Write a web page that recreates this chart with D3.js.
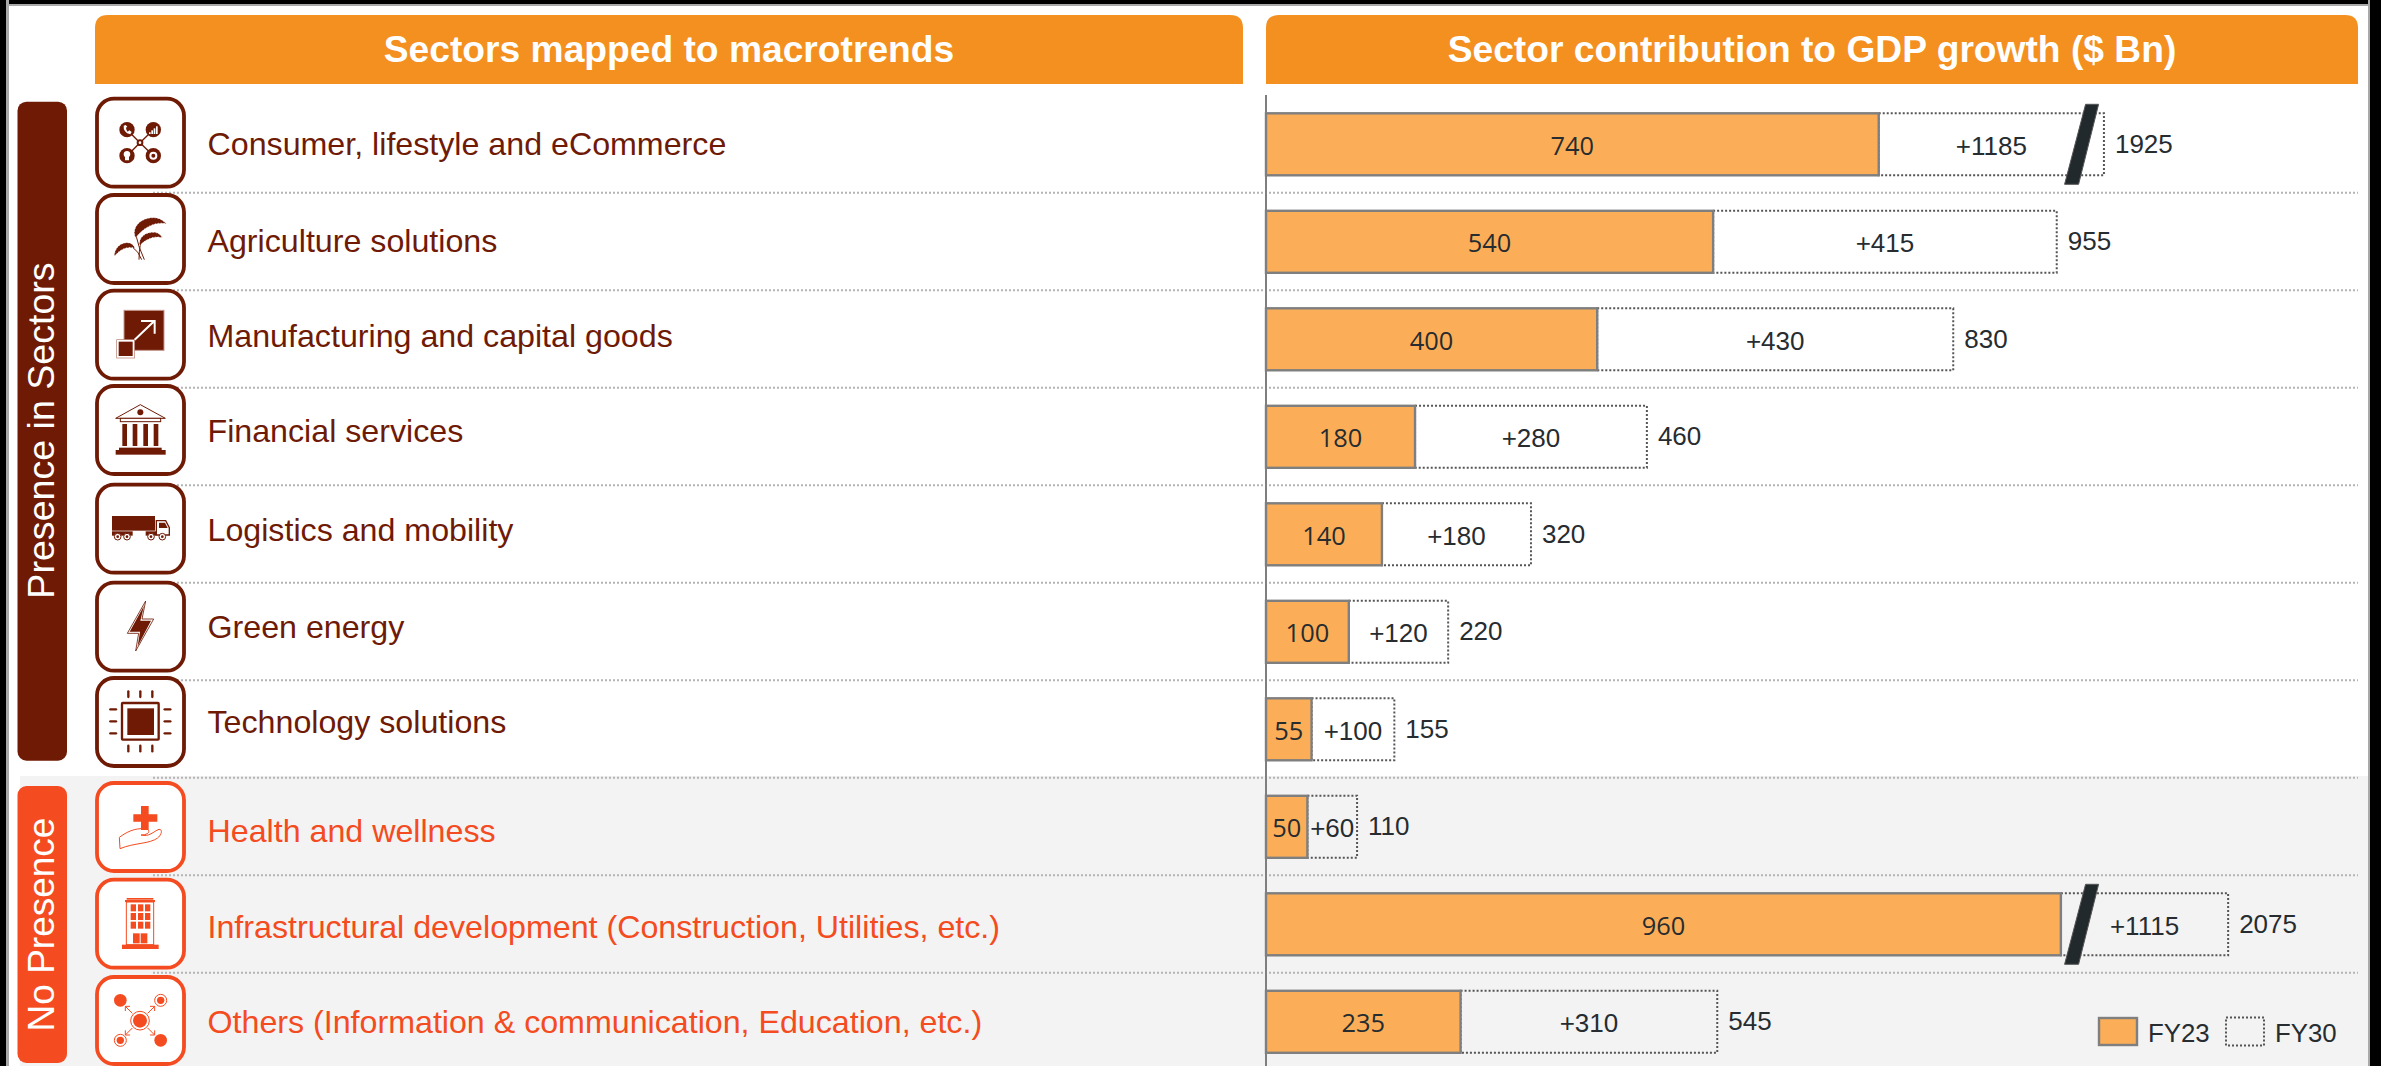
<!DOCTYPE html>
<html>
<head>
<meta charset="utf-8">
<script src="https://cdn.jsdelivr.net/npm/d3@7"></script>
<style>
html,body{margin:0;padding:0;background:#fff;overflow:hidden}
svg{display:block}
text{font-family:"Liberation Sans",Arial,sans-serif}
</style>
</head>
<body>
<div id="chart"></div>
<script>
const categories = ["Consumer, lifestyle and eCommerce","Agriculture solutions","Manufacturing and capital goods","Financial services","Logistics and mobility","Green energy","Technology solutions","Health and wellness","Infrastructural development (Construction, Utilities, etc.)","Others (Information & communication, Education, etc.)"];
const fy23 = [740,540,400,180,140,100,55,50,960,235];
const increment = [1185,415,430,280,180,120,100,60,1115,310];
const totals = [1925,955,830,460,320,220,155,110,2075,545];
// Two bars are cut by an axis break: what is drawn of their increment, on the same scale
const drawnIncrement = [272,415,430,280,180,120,100,60,202,310];
const breakAt = [985,null,null,null,null,null,null,null,985,null];
const groups = ["Presence in Sectors","No Presence"];
const groupOf = [0,0,0,0,0,0,0,1,1,1];
const headers = ["Sectors mapped to macrotrends","Sector contribution to GDP growth ($ Bn)"];
const legendLabels = ["FY23","FY30"];

const W=2381,H=1066;
const DARK="#6e1a05",RED="#f44b20",ORANGE="#fbae57",HEAD="#f4901f",INK="#262c30",GREY="#7f7f7f";
const svg=d3.select("#chart").append("svg").attr("width",W).attr("height",H).attr("viewBox",`0 0 ${W} ${H}`);

const x=d3.scaleLinear().domain([0,1000]).range([1266,2094]);
const y=d3.scaleBand().domain(categories).range([113.3,1052.8]).paddingInner(35.5/97.5);
const colorOf=i=>groupOf[i]?RED:DARK;

// page frame + grey panel
svg.append("rect").attr("x",20).attr("y",776).attr("width",2349).attr("height",290).attr("fill","#f3f3f3");
svg.append("rect").attr("width",W).attr("height",6).attr("fill","#a9a9a9");
svg.append("rect").attr("width",W).attr("height",4).attr("fill","#000");
svg.append("rect").attr("width",9).attr("height",H).attr("fill","#a9a9a9");
svg.append("rect").attr("width",6).attr("height",H).attr("fill","#000");
svg.append("rect").attr("x",2368).attr("width",2).attr("height",H).attr("fill","#a9a9a9");
svg.append("rect").attr("x",2370).attr("width",11).attr("height",H).attr("fill","#000");

// headers
const headPath=(a,b,t,bt,r)=>`M${a},${bt}V${t+r}Q${a},${t} ${a+r},${t}H${b-r}Q${b},${t} ${b},${t+r}V${bt}Z`;
[[95,1243],[1266,2358]].forEach((e,i)=>{
  svg.append("path").attr("d",headPath(e[0],e[1],15,84,13)).attr("fill",HEAD);
  svg.append("text").attr("x",(e[0]+e[1])/2).attr("y",62).attr("text-anchor","middle")
    .attr("font-size",37.2).attr("font-weight","bold").attr("fill","#fff").text(headers[i]);
});

// row separators
const sepY=d3.range(9).map(i=>192.7+97.5*i);
svg.append("g").selectAll("line").data(sepY).join("line")
  .attr("x1",153).attr("x2",2358).attr("y1",d=>d).attr("y2",d=>d)
  .attr("stroke","#b4b4b4").attr("stroke-width",2).attr("stroke-dasharray","2 2");

// side bands
[[17.5,101.7,49.5,659,0,53.5,430.5,37.6],[17.5,786,49.5,277,1,53.5,924.5,37]].forEach(b=>{
  svg.append("rect").attr("x",b[0]).attr("y",b[1]).attr("width",b[2]).attr("height",b[3]).attr("rx",9).attr("fill",b[4]?RED:DARK);
  svg.append("text").attr("transform",`translate(${b[5]},${b[6]}) rotate(-90)`).attr("text-anchor","middle")
    .attr("font-size",b[7]).attr("fill","#fff").text(groups[b[4]]);
});

// icon boxes
const boxTop=[96.7,193,288.7,384,482.7,580.7,676,781,877.7,975];
svg.append("g").selectAll("rect").data(boxTop).join("rect")
  .attr("x",97).attr("y",d=>d+2).attr("width",87).attr("height",(d,i)=>i===9?87:88).attr("rx",17)
  .attr("fill","#fff").attr("stroke",(d,i)=>colorOf(i)).attr("stroke-width",3.8);

// icons are drawn in a 3x local space
function icon(oy,c){return svg.append("g").attr("transform",`translate(95,${oy}) scale(${1/3})`).attr("fill",c).attr("stroke","none");}
function seg(g,a,b,c,w){return g.append("line").attr("x1",a[0]).attr("y1",a[1]).attr("x2",b[0]).attr("y2",b[1]).attr("stroke",c).attr("stroke-width",w);}

// 1 consumer
(()=>{const g=icon(95,DARK);
  [[96,104],[175,104],[96,182],[175,182]].forEach(p=>{seg(g,p,[135,143],DARK,4);g.append("circle").attr("cx",p[0]).attr("cy",p[1]).attr("r",23);});
  g.append("circle").attr("cx",135).attr("cy",143).attr("r",10);
  g.append("circle").attr("cx",135).attr("cy",143).attr("r",4).attr("fill","#fff");
  g.append("path").attr("d","M86,92 Q84,112 106,118 L110,111 L103,106 L98,110 Q93,104 93,98 L97,95 L92,90Z").attr("fill","#fff");
  [[162,112,5],[169,106,11],[176,100,17],[183,94,23]].forEach(b=>g.append("rect").attr("x",b[0]).attr("y",b[1]).attr("width",5).attr("height",b[2]).attr("fill","#fff"));
  g.append("path").attr("d","M96,168 C84,168 84,182 90,186 L90,196 L102,196 L102,186 C108,182 108,168 96,168Z").attr("fill","#fff");
  g.append("circle").attr("cx",175).attr("cy",182).attr("r",9).attr("fill","none").attr("stroke","#fff").attr("stroke-width",6);
})();
// 2 wheat
(()=>{const g=icon(95,DARK);
  const st=d=>g.append("path").attr("d",d).attr("fill","none").attr("stroke",DARK).attr("stroke-width",3);
  st("M148,494 Q130,455 124,425");st("M132,494 Q132,470 136,448");st("M140,494 Q130,468 114,458");
  const ear=d=>{g.append("path").attr("d",d);
    g.append("path").attr("d",d).attr("fill","none").attr("stroke","#fff").attr("stroke-width",2).attr("stroke-dasharray","4 5");};
  ear("M122,428 C108,400 135,368 175,368 C192,368 205,376 214,386 C185,380 150,392 122,428Z");
  ear("M134,452 C130,428 150,412 175,412 C188,412 196,418 202,428 C180,422 155,430 134,452Z");
  ear("M58,484 C58,458 78,442 98,443 C110,444 116,450 120,460 C100,452 75,462 58,484Z");
})();
// 3 scale-up
(()=>{const g=icon(95,DARK);
  g.append("rect").attr("x",87).attr("y",646).attr("width",120).attr("height",120).attr("stroke","#c79a8d").attr("stroke-width",3);
  g.append("rect").attr("x",65).attr("y",734).attr("width",54).attr("height",55).attr("fill","#fff").attr("stroke","#b37a6b").attr("stroke-width",2);
  g.append("rect").attr("x",71).attr("y",740).attr("width",42).attr("height",43);
  g.append("path").attr("d","M119,734 L178,678 M138,678 H179 V716").attr("fill","none").attr("stroke","#fff").attr("stroke-width",6);
})();
// 4 bank
(()=>{const g=icon(385,DARK);
  g.append("path").attr("d","M62,100 L136,59 L211,100Z").attr("fill","#fff").attr("stroke",DARK).attr("stroke-width",3);
  g.append("circle").attr("cx",136).attr("cy",82).attr("r",9);
  g.append("rect").attr("x",76).attr("y",100).attr("width",121).attr("height",10).attr("fill","#fff").attr("stroke",DARK).attr("stroke-width",3);
  [82,113,145,176].forEach(c=>g.append("rect").attr("x",c).attr("y",117).attr("width",14).attr("height",66));
  g.append("rect").attr("x",72).attr("y",188).attr("width",128).attr("height",8);
  g.append("rect").attr("x",62).attr("y",195).attr("width",150).attr("height",14);
})();
// 5 truck
(()=>{const g=icon(385,DARK);
  g.append("rect").attr("x",51).attr("y",393).attr("width",129).attr("height",44);
  g.append("rect").attr("x",51).attr("y",439).attr("width",62).attr("height",13);
  g.append("rect").attr("x",152).attr("y",439).attr("width",32).attr("height",13);
  g.append("path").attr("d","M184,407 H212 L223,428 V450 H184Z").attr("fill","#fff").attr("stroke",DARK).attr("stroke-width",4);
  g.append("path").attr("d","M192,413 H210 L218,429 H192Z");
  [68,96,168,202].forEach(c=>{g.append("circle").attr("cx",c).attr("cy",455).attr("r",10).attr("fill","#fff").attr("stroke",DARK).attr("stroke-width",3);
    g.append("circle").attr("cx",c).attr("cy",455).attr("r",4);});
})();
// 6 bolt
(()=>{const g=icon(385,DARK);
  g.append("path").attr("d","M152,648 L141,702 L176,702 L122,798 L131,745 L97,745Z").attr("fill","#fff").attr("stroke",DARK).attr("stroke-width",2.5);
  g.append("path").attr("d","M147,662 L136,707 L168,707 L128,784 L135,740 L104,740Z");
})();
// 7 chip
(()=>{const g=icon(676,DARK);
  g.append("rect").attr("x",81).attr("y",81).attr("width",110).attr("height",110).attr("fill","#fff").attr("stroke",DARK).attr("stroke-width",7).attr("rx",2);
  g.append("rect").attr("x",97).attr("y",97).attr("width",80).attr("height",80);
  [100,136,172].forEach(c=>{
    [[[c,46],[c,63]],[[c,209],[c,226]],[[46,c],[63,c]],[[209,c],[226,c]]].forEach(s=>seg(g,s[0],s[1],DARK,7).attr("stroke-linecap","round"));
  });
})();
// 8 health
(()=>{const g=icon(676,RED);
  g.append("path").attr("d","M138,390H161V415H187V437H161V462H138V437H115V415H138Z");
  g.append("path").attr("d","M73,484 C95,468 118,456 150,458 C166,460 168,476 138,477 C162,484 176,466 192,460 C204,460 200,476 188,486 C164,504 118,500 75,518Z").attr("fill","none").attr("stroke",RED).attr("stroke-width",3);
})();
// 9 building
(()=>{const g=icon(676,RED);
  g.append("rect").attr("x",95).attr("y",666).attr("width",80).attr("height",5);
  g.append("rect").attr("x",90).attr("y",672).attr("width",90).attr("height",6);
  g.append("rect").attr("x",94).attr("y",678).attr("width",82).attr("height",128).attr("fill","none").attr("stroke",RED).attr("stroke-width",3);
  [685,711,737].forEach(r=>[107,129,150].forEach(c=>g.append("rect").attr("x",c).attr("y",r).attr("width",16).attr("height",21)));
  g.append("rect").attr("x",114).attr("y",772).attr("width",20).attr("height",30);
  g.append("rect").attr("x",137).attr("y",772).attr("width",20).attr("height",30);
  g.append("rect").attr("x",81).attr("y",806).attr("width",110).attr("height",13);
})();
// 10 network
(()=>{const g=icon(676,RED);
  const ring=(cx,cy,r,ri)=>{g.append("circle").attr("cx",cx).attr("cy",cy).attr("r",r).attr("fill","#fff").attr("stroke",RED).attr("stroke-width",3);
    g.append("circle").attr("cx",cx).attr("cy",cy).attr("r",ri);};
  ring(135,1034,28,21);ring(197,973,18,11);ring(76,1093,18,11);
  g.append("circle").attr("cx",76).attr("cy",973).attr("r",19);
  g.append("circle").attr("cx",197).attr("cy",1093).attr("r",19);
  [[1,-1],[-1,-1],[1,1],[-1,1]].forEach(d=>{
    const cx=135+d[0]*23,cy=1034+d[1]*22,ex=135+d[0]*44,ey=1034+d[1]*43;
    g.append("path").attr("d",`M${cx},${cy}L${ex},${ey}M${ex-d[0]*14},${ey}L${ex},${ey}L${ex},${ey-d[1]*14}`).attr("fill","none").attr("stroke",RED).attr("stroke-width",3);
  });
})();

// row labels
const labelBase=[155,251.7,346.7,441.7,540.7,638,733,841.7,938,1032.7];
svg.append("g").selectAll("text").data(categories).join("text")
  .attr("x",207.5).attr("y",(d,i)=>labelBase[i]).attr("font-size",32.2).attr("fill",(d,i)=>colorOf(i)).text(d=>d);

// axis line
svg.append("line").attr("x1",x(0)).attr("x2",x(0)).attr("y1",95).attr("y2",H).attr("stroke",GREY).attr("stroke-width",2);

// bars
const bars=svg.append("g").selectAll("g").data(categories).join("g").attr("transform",d=>`translate(0,${y(d)})`);
bars.append("rect").attr("x",(d,i)=>x(fy23[i])).attr("width",(d,i)=>x(drawnIncrement[i])-x(0)).attr("height",y.bandwidth())
  .attr("fill","none").attr("stroke","#555").attr("stroke-width",2).attr("stroke-dasharray","2 2");
bars.append("rect").attr("x",x(0)).attr("width",(d,i)=>x(fy23[i])-x(0)).attr("height",y.bandwidth())
  .attr("fill",ORANGE).attr("stroke",GREY).attr("stroke-width",2.4);
bars.append("text").attr("x",(d,i)=>x(fy23[i]/2)).attr("y",41.5).attr("text-anchor","middle")
  .attr("font-size",25.4).style("font-family","'Open Sans'").attr("fill",INK).text((d,i)=>fy23[i]);
bars.append("text").attr("x",(d,i)=>x(fy23[i]+drawnIncrement[i]/2)).attr("y",41.5).attr("text-anchor","middle")
  .attr("font-size",26).attr("fill",INK).text((d,i)=>"+"+increment[i]);
bars.append("text").attr("x",(d,i)=>x(fy23[i]+drawnIncrement[i])+11).attr("y",39.5)
  .attr("font-size",26).attr("fill",INK).text((d,i)=>totals[i]);
bars.filter((d,i)=>breakAt[i]!==null).append("path")
  .attr("d",d=>{const b=x(breakAt[categories.indexOf(d)]);
    return `M${b+4},-9 H${b+17} L${b-3},71 H${b-17}Z`;})
  .attr("fill","#22292c").attr("stroke","#555").attr("stroke-width",1);

// legend
const lg=svg.append("g");
lg.append("rect").attr("x",2099).attr("y",1018).attr("width",38).attr("height",27).attr("fill",ORANGE).attr("stroke",GREY).attr("stroke-width",2.4);
lg.append("text").attr("x",2148).attr("y",1041.7).attr("font-size",25.8).attr("fill",INK).text(legendLabels[0]);
lg.append("rect").attr("x",2226).attr("y",1017.5).attr("width",38).attr("height",28).attr("fill","none").attr("stroke","#555").attr("stroke-width",2).attr("stroke-dasharray","2 2");
lg.append("text").attr("x",2275).attr("y",1041.7).attr("font-size",25.8).attr("fill",INK).text(legendLabels[1]);
</script>
</body>
</html>
